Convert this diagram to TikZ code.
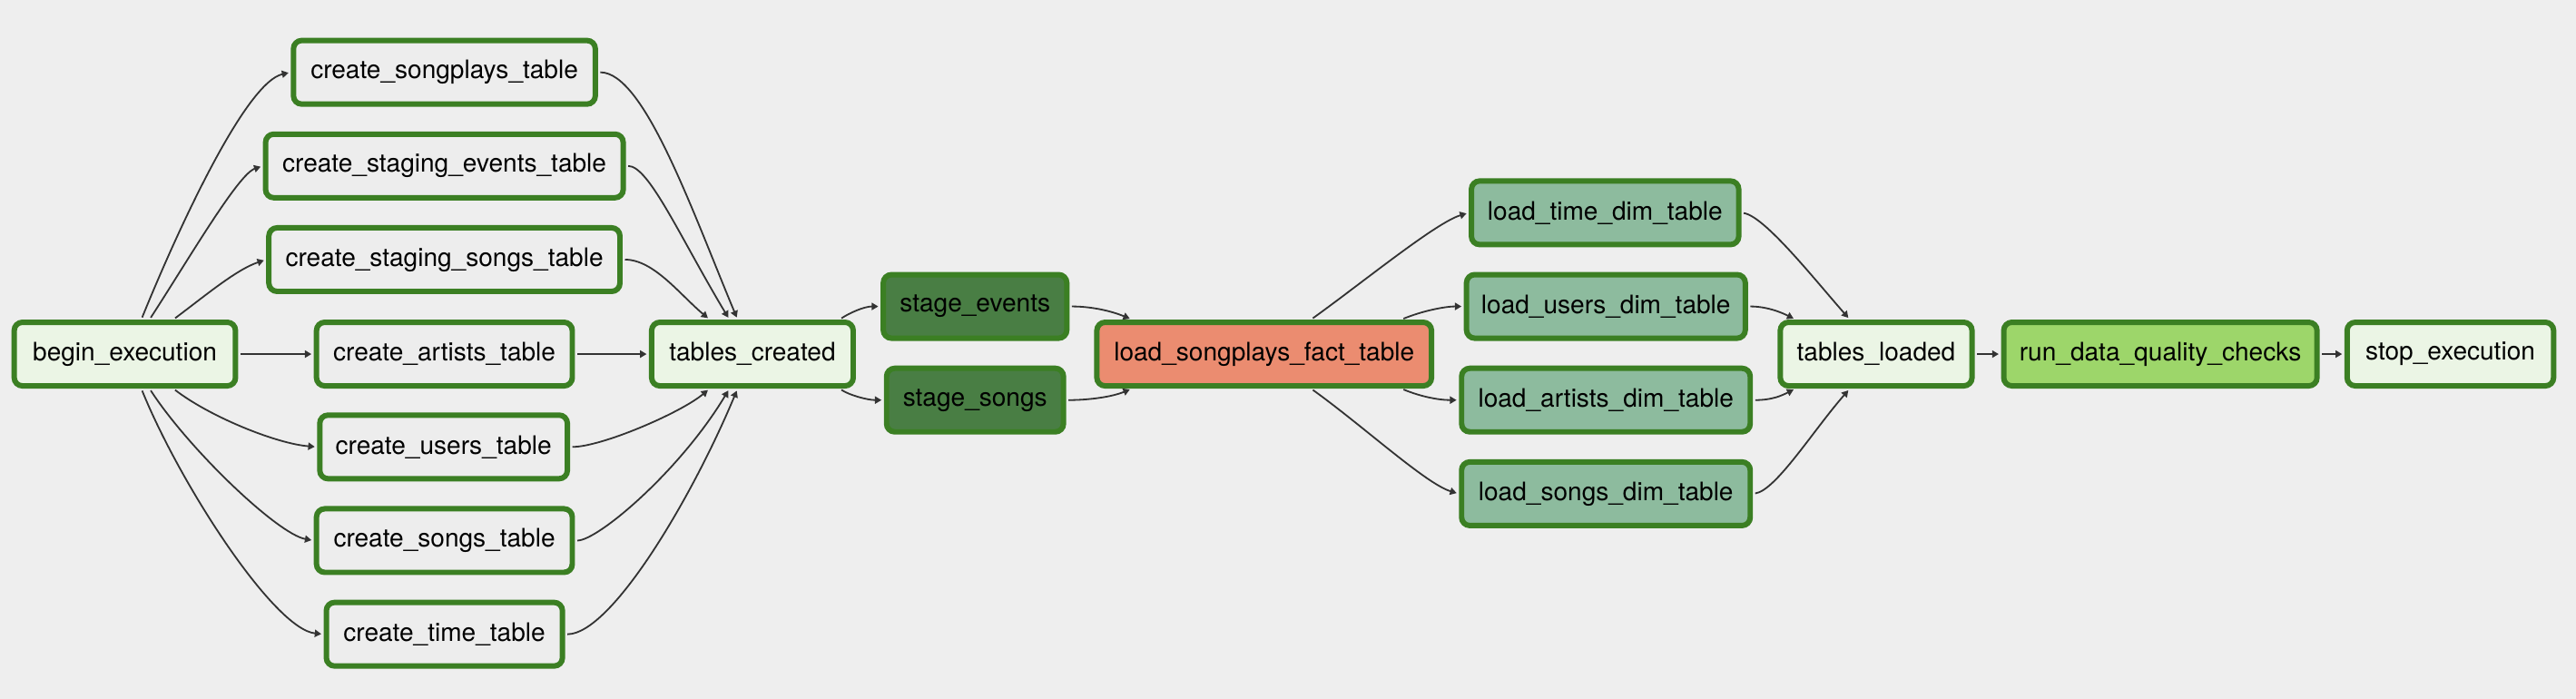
\documentclass[tikz,border=0pt]{standalone}
\usepackage{fontspec}
\setmainfont{TeX Gyre Heros}
\usetikzlibrary{arrows.meta}
\definecolor{bgc}{RGB}{238,238,238}
\definecolor{bord}{RGB}{59,127,35}
\definecolor{dummyc}{RGB}{235,245,229}
\definecolor{pgc}{RGB}{237,237,237}
\definecolor{stagec}{RGB}{73,126,68}
\definecolor{factc}{RGB}{235,140,112}
\definecolor{dimc}{RGB}{141,187,158}
\definecolor{dqc}{RGB}{157,214,106}
\definecolor{edgec}{RGB}{51,51,51}
\begin{document}
\begin{tikzpicture}[x=1pt,y=-1pt,
  box/.style={draw=bord, line width=3.3pt, rounded corners=5pt, minimum height=38.7pt,
    inner sep=0pt, font=\fontsize{15.5}{18}\selectfont, text=black},
  dummy/.style={box, fill=dummyc},
  pg/.style={box, fill=pgc},
  stg/.style={box, fill=stagec},
  fact/.style={box, fill=factc},
  dim/.style={box, fill=dimc},
  dq/.style={box, fill=dqc},
  conn/.style={draw=edgec, line width=1pt, -{Triangle[length=4pt,width=4.4pt]},
    shorten >=1.4pt, shorten <=1.4pt}]
\useasboundingbox (0,0) rectangle (1568,425.4);
\fill[bgc] (0,0) rectangle (1568,425.4);

% nodes
\node[dummy, minimum width=134.7pt] (begin) at (76,215.5) {begin\_execution};
\node[pg, minimum width=183.7pt] (csp) at (270.5,44) {create\_songplays\_table};
\node[pg, minimum width=217.7pt] (cse) at (270.5,101) {create\_staging\_events\_table};
\node[pg, minimum width=213.7pt] (css) at (270.5,158) {create\_staging\_songs\_table};
\node[pg, minimum width=155.7pt] (car) at (270.5,215.5) {create\_artists\_table};
\node[pg, minimum width=150.7pt] (cus) at (270,272) {create\_users\_table};
\node[pg, minimum width=155.7pt] (cso) at (270.5,329) {create\_songs\_table};
\node[pg, minimum width=143.7pt] (cti) at (270.5,386) {create\_time\_table};
\node[dummy, minimum width=122.7pt] (tc) at (458,215.5) {tables\_created};
\node[stg, minimum width=111.7pt] (se) at (593.5,186.5) {stage\_events};
\node[stg, minimum width=107.7pt] (ss) at (593.5,243.5) {stage\_songs};
\node[fact, minimum width=203.7pt] (lf) at (769.5,215.5) {load\_songplays\_fact\_table};
\node[dim, minimum width=162.7pt] (lt) at (977,129.5) {load\_time\_dim\_table};
\node[dim, minimum width=169.7pt] (lu) at (977.5,186.5) {load\_users\_dim\_table};
\node[dim, minimum width=175.7pt] (la) at (977.5,243.5) {load\_artists\_dim\_table};
\node[dim, minimum width=175.7pt] (ls) at (977.5,300.5) {load\_songs\_dim\_table};
\node[dummy, minimum width=116.7pt] (tl) at (1142,215.5) {tables\_loaded};
\node[dq, minimum width=190.7pt] (dqn) at (1315,215.5) {run\_data\_quality\_checks};
\node[dummy, minimum width=125.7pt] (stop) at (1491.5,215.5) {stop\_execution};

% begin -> create tables
\draw[conn] ([xshift=10pt]begin.north) .. controls +(24,-59) and +(-27,6) .. (csp.west);
\draw[conn] ([xshift=15pt]begin.north) .. controls +(24,-37) and +(-15,5) .. (cse.west);
\draw[conn] ([xshift=29.5pt]begin.north) .. controls +(20,-15) and +(-18,6) .. (css.west);
\draw[conn] (begin.east) -- (car.west);
\draw[conn] ([xshift=29.5pt]begin.south) .. controls +(22,17) and +(-25,-2) .. (cus.west);
\draw[conn] ([xshift=15pt]begin.south) .. controls +(24,37) and +(-22,-4) .. (cso.west);
\draw[conn] ([xshift=10pt]begin.south) .. controls +(24,59) and +(-30,-3) .. (cti.west);

% create tables -> tables_created
\draw[conn] (csp.east) .. controls +(28,0) and +(-28,-67) .. ([xshift=-9pt]tc.north);
\draw[conn] (cse.east) .. controls +(14,0) and +(-30,-50) .. ([xshift=-14pt]tc.north);
\draw[conn] (css.east) .. controls +(19,0) and +(-18,-15) .. ([xshift=-26pt]tc.north);
\draw[conn] (car.east) -- (tc.west);
\draw[conn] (cus.east) .. controls +(19,0) and +(-18,15) .. ([xshift=-26pt]tc.south);
\draw[conn] (cso.east) .. controls +(14,0) and +(-30,50) .. ([xshift=-14pt]tc.south);
\draw[conn] (cti.east) .. controls +(28,0) and +(-28,67) .. ([xshift=-9pt]tc.south);

% staging
\draw[conn] ([xshift=53pt]tc.north) .. controls +(6,-4) and +(-10,0) .. (se.west);
\draw[conn] ([xshift=53pt]tc.south) .. controls +(6,4) and +(-10,0) .. (ss.west);
\draw[conn] (se.east) .. controls +(14,0) and +(-12,-5) .. ([xshift=-80.5pt]lf.north);
\draw[conn] (ss.east) .. controls +(14,0) and +(-12,5) .. ([xshift=-80.5pt]lf.south);

% fact -> dims
\draw[conn] ([xshift=28.5pt]lf.north) .. controls +(32,-23) and +(-20,6) .. (lt.west);
\draw[conn] ([xshift=83.5pt]lf.north) .. controls +(12,-5) and +(-12,0) .. (lu.west);
\draw[conn] ([xshift=83.5pt]lf.south) .. controls +(12,5) and +(-12,0) .. (la.west);
\draw[conn] ([xshift=28.5pt]lf.south) .. controls +(32,23) and +(-20,-6) .. (ls.west);

% dims -> tables_loaded
\draw[conn] (lt.east) .. controls +(14,2) and +(-22,-25) .. ([xshift=-16pt]tl.north);
\draw[conn] (lu.east) .. controls +(12,0) and +(-8,-4) .. ([xshift=-49pt]tl.north);
\draw[conn] (la.east) .. controls +(12,0) and +(-8,4) .. ([xshift=-49pt]tl.south);
\draw[conn] (ls.east) .. controls +(14,-2) and +(-22,25) .. ([xshift=-16pt]tl.south);

\draw[conn] (tl.east) -- (dqn.west);
\draw[conn] (dqn.east) -- (stop.west);
\end{tikzpicture}
\end{document}
